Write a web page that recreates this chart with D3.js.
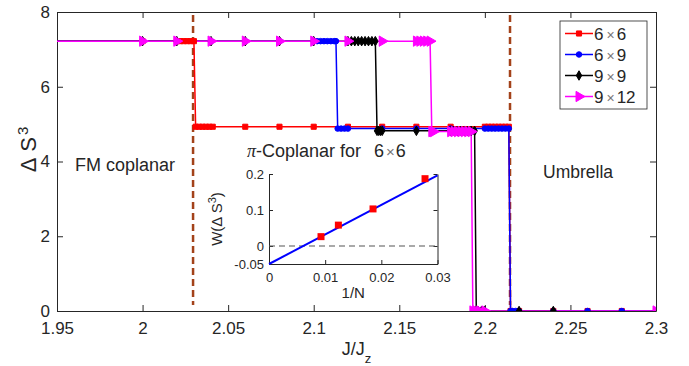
<!DOCTYPE html>
<html>
<head>
<meta charset="utf-8">
<script src="https://cdn.jsdelivr.net/npm/d3@7"></script>
<style>
body { margin: 0; background: #fff; }
text { font-family: "Liberation Sans", Arial, sans-serif; fill: #262626; }
</style>
</head>
<body>
<div class="chart"></div>
<script>
// tick labels
var xTicks = [1.95, 2, 2.05, 2.1, 2.15, 2.2, 2.25, 2.3];
var yTicks = [0, 2, 4, 6, 8];

// 6x6
var j66 = [1.9, 2.0, 2.02, 2.022, 2.024, 2.026, 2.028, 2.03,
           2.031, 2.033, 2.035, 2.037, 2.039, 2.041,
           2.06, 2.08, 2.1, 2.12, 2.14, 2.16, 2.18,
           2.2, 2.202, 2.204, 2.206, 2.208, 2.21, 2.212, 2.214,
           2.215, 2.22, 2.24, 2.26, 2.28, 2.3];
var s66 = [7.22, 7.22, 7.22, 7.22, 7.22, 7.22, 7.22, 7.22,
           4.93, 4.93, 4.93, 4.93, 4.93, 4.93,
           4.93, 4.93, 4.93, 4.93, 4.93, 4.93, 4.93,
           4.93, 4.93, 4.93, 4.93, 4.93, 4.93, 4.93, 4.93,
           0, 0, 0, 0, 0, 0];

// 6x9
var j69 = [1.9, 2.0, 2.02, 2.04, 2.06, 2.08, 2.1, 2.102, 2.104, 2.106, 2.108, 2.11, 2.112, 2.113,
           2.114, 2.116, 2.118, 2.12, 2.14, 2.16, 2.18,
           2.2, 2.202, 2.204, 2.206, 2.208, 2.21, 2.212, 2.214,
           2.215, 2.216, 2.218, 2.22, 2.24, 2.26, 2.28, 2.3];
var s69 = [7.22, 7.22, 7.22, 7.22, 7.22, 7.22, 7.22, 7.22, 7.22, 7.22, 7.22, 7.22, 7.22, 7.22,
           4.88, 4.88, 4.88, 4.88, 4.88, 4.88, 4.88,
           4.88, 4.88, 4.88, 4.88, 4.88, 4.88, 4.88, 4.88,
           0, 0, 0, 0, 0, 0, 0, 0];

// 9x9
var j99 = [1.9, 2.0, 2.02, 2.04, 2.06, 2.08, 2.1,
           2.12, 2.122, 2.124, 2.126, 2.128, 2.13, 2.132, 2.134, 2.136,
           2.137, 2.138, 2.139, 2.14, 2.16,
           2.18, 2.182, 2.184, 2.186, 2.188, 2.19, 2.192, 2.194,
           2.195, 2.196, 2.198, 2.2, 2.22, 2.24];
var s99 = [7.22, 7.22, 7.22, 7.22, 7.22, 7.22, 7.22,
           7.22, 7.22, 7.22, 7.22, 7.22, 7.22, 7.22, 7.22, 7.22,
           4.82, 4.82, 4.82, 4.82, 4.82,
           4.82, 4.82, 4.82, 4.82, 4.82, 4.82, 4.82, 4.82,
           0, 0, 0, 0, 0, 0];

// 9x12
var j912 = [1.9, 2.0, 2.02, 2.04, 2.06, 2.08, 2.1, 2.12, 2.14,
            2.16, 2.162, 2.164, 2.166, 2.168,
            2.169, 2.17, 2.18, 2.182, 2.184, 2.186, 2.188, 2.19, 2.192,
            2.193, 2.195, 2.197, 2.2, 2.3];
var s912 = [7.22, 7.22, 7.22, 7.22, 7.22, 7.22, 7.22, 7.22, 7.22,
            7.22, 7.22, 7.22, 7.22, 7.22,
            4.8, 4.8, 4.8, 4.8, 4.8, 4.8, 4.8, 4.8, 4.8,
            0, 0, 0, 0, 0];

var phaseLines = [2.0295, 2.2147];

// inset
var invN = [0.00926, 0.01235, 0.01852, 0.02778];
var wVals = [0.026, 0.058, 0.103, 0.187];
var fitX = [0, 0.03];
var fitY = [-0.05, 0.196];
var insetXTicks = [0, 0.01, 0.02, 0.03];
var insetYTicks = [-0.05, 0, 0.1, 0.2];

var series = [
    {name: ["6", "6"], x: j66, y: s66, color: "#ff0000", shape: "square"},
    {name: ["6", "9"], x: j69, y: s69, color: "#0000ff", shape: "circle"},
    {name: ["9", "9"], x: j99, y: s99, color: "#000000", shape: "diamond"},
    {name: ["9", "12"], x: j912, y: s912, color: "#ff00ff", shape: "triangle"}
];

function markerPath(shape) {
    if (shape == "square") return d3.symbol().type(d3.symbolSquare).size(26)();
    if (shape == "circle") return d3.symbol().type(d3.symbolCircle).size(24)();
    if (shape == "diamond") return d3.symbol().type(d3.symbolDiamond).size(26)();
    return d3.symbol().type(d3.symbolTriangle).size(46)();
}

function chart() {
    var margin = {top: 12, right: 33, bottom: 55, left: 57};
    var width = 689 - margin.left - margin.right;
    var height = 366 - margin.top - margin.bottom;

    var x = d3.scaleLinear().domain([1.95, 2.3]).range([0, width]);
    var y = d3.scaleLinear().domain([0, 8]).range([height, 0]);

    var svg = d3.select(".chart").append("svg")
            .attr("width", 689)
            .attr("height", 366)
            .append("g")
            .attr("transform", "translate(" + margin.left + "," + margin.top + ")");

    svg.append("defs").append("clipPath").attr("id", "clip")
        .append("rect").attr("width", width).attr("height", height);

    // axes (box on, ticks inward)
    var fmt = function (d) { return String(d); };
    svg.append("g")
        .attr("transform", "translate(0," + height + ")")
        .call(d3.axisBottom(x).tickValues(xTicks).tickFormat(fmt).tickSizeInner(-6).tickSizeOuter(0).tickPadding(11));
    svg.append("g")
        .call(d3.axisTop(x).tickValues(xTicks).tickFormat("").tickSizeInner(-6).tickSizeOuter(0));
    svg.append("g")
        .call(d3.axisLeft(y).tickValues(yTicks).tickFormat(fmt).tickSizeInner(-6).tickSizeOuter(0).tickPadding(7));
    svg.append("g")
        .attr("transform", "translate(" + width + ",0)")
        .call(d3.axisRight(y).tickValues(yTicks).tickFormat("").tickSizeInner(-6).tickSizeOuter(0));

    svg.selectAll(".domain").attr("stroke", "#262626").attr("stroke-width", 1);
    svg.selectAll(".tick line").attr("stroke", "#262626");
    svg.selectAll(".tick text").style("font-size", "17px").attr("fill", "#262626");

    var plot = svg.append("g").attr("clip-path", "url(#clip)");

    // phase boundaries
    plot.selectAll(".phase").data(phaseLines).enter().append("line")
        .attr("x1", function (d) { return x(d); })
        .attr("x2", function (d) { return x(d); })
        .attr("y1", 3)
        .attr("y2", height - 6)
        .attr("stroke", "#a3421a")
        .attr("stroke-width", 2.5)
        .attr("stroke-dasharray", "7,4");

    var line = d3.line()
        .x(function (d) { return x(d[0]); })
        .y(function (d) { return y(d[1]); });

    series.forEach(function (s) {
        s.pts = s.x.map(function (v, i) { return [v, s.y[i]]; });
        plot.append("path")
            .attr("d", line(s.pts))
            .attr("fill", "none")
            .attr("stroke", s.color)
            .attr("stroke-width", 1.5);
    });

    series.forEach(function (s) {
        plot.selectAll(null).data(s.pts).enter().append("path")
            .attr("d", markerPath(s.shape))
            .attr("transform", function (d) {
                return "translate(" + x(d[0]) + "," + y(d[1]) + ")" + (s.shape == "triangle" ? " rotate(90)" : "");
            })
            .attr("fill", s.color)
            .attr("stroke", s.color)
            .attr("stroke-width", 1);
    });

    // labels
    svg.append("text")
        .attr("x", width / 2)
        .attr("y", height + 44)
        .attr("text-anchor", "middle")
        .style("font-size", "18px")
        .text("J/J")
        .append("tspan").attr("baseline-shift", "sub").style("font-size", "13px").text("z");

    var yl = svg.append("text")
        .attr("transform", "translate(-21," + (height / 2 - 12) + ") rotate(-90)")
        .attr("text-anchor", "middle")
        .style("font-size", "22px");
    yl.append("tspan").text("\u0394");
    yl.append("tspan").attr("dx", 6).text("S");
    yl.append("tspan").attr("dx", 2).attr("baseline-shift", "super").style("font-size", "15px").text("3");

    svg.append("text").attr("x", 18).attr("y", 159).style("font-size", "18px").text("FM coplanar");
    svg.append("text").attr("x", 486).attr("y", 166).style("font-size", "17.5px").text("Umbrella");

    // legend
    var lg = svg.append("g").attr("transform", "translate(503,9)");
    lg.append("rect").attr("width", 87).attr("height", 88)
        .attr("fill", "#fff").attr("stroke", "#262626").attr("stroke-width", 0.8);
    series.forEach(function (s, i) {
        var row = lg.append("g").attr("transform", "translate(0," + (12.5 + i * 21) + ")");
        row.append("line").attr("x1", 5).attr("x2", 33)
            .attr("stroke", s.color).attr("stroke-width", 1.5);
        row.append("path").attr("d", markerPath(s.shape))
            .attr("transform", "translate(19,0)" + (s.shape == "triangle" ? " rotate(90)" : ""))
            .attr("fill", s.color).attr("stroke", s.color);
        var t = row.append("text").attr("x", 34).attr("y", 6).style("font-size", "17px");
        t.append("tspan").text(s.name[0]);
        t.append("tspan").attr("dx", 3).attr("fill", "#777").style("font-size", "14px").text("\u00d7");
        t.append("tspan").attr("dx", 2).text(s.name[1]);
    });

    // inset
    var ix0 = 269 - margin.left, iy0 = 174 - margin.top;
    var iw = 168.5, ih = 90;
    var ix = d3.scaleLinear().domain([0, 0.03]).range([0, iw]);
    var iy = d3.scaleLinear().domain([-0.05, 0.2]).range([ih, 0]);
    var inset = svg.append("g").attr("transform", "translate(" + ix0 + "," + iy0 + ")");
    inset.append("rect").attr("width", iw).attr("height", ih).attr("fill", "#fff");

    inset.append("g")
        .attr("transform", "translate(0," + ih + ")")
        .call(d3.axisBottom(ix).tickValues(insetXTicks).tickFormat(fmt).tickSizeInner(-4).tickSizeOuter(0).tickPadding(9));
    inset.append("g")
        .call(d3.axisLeft(iy).tickValues(insetYTicks).tickFormat(fmt).tickSizeInner(-4).tickSizeOuter(0).tickPadding(5));
    inset.append("g")
        .attr("transform", "translate(" + iw + ",0)")
        .call(d3.axisRight(iy).tickValues(insetYTicks).tickFormat("").tickSizeInner(-4).tickSizeOuter(0));
    inset.selectAll(".domain").attr("stroke", "#262626");
    inset.selectAll(".tick line").attr("stroke", "#262626");
    inset.selectAll(".tick text").style("font-size", "13px").attr("fill", "#262626");

    inset.append("line")
        .attr("x1", 0).attr("x2", iw)
        .attr("y1", iy(0)).attr("y2", iy(0))
        .attr("stroke", "#555").attr("stroke-width", 1.2).attr("stroke-dasharray", "6,4");

    inset.append("path")
        .attr("d", d3.line()(fitX.map(function (v, i) { return [ix(v), iy(fitY[i])]; })))
        .attr("stroke", "#0000ff").attr("stroke-width", 2).attr("fill", "none");

    inset.selectAll(null).data(invN).enter().append("rect")
        .attr("x", function (d) { return ix(d) - 3.5; })
        .attr("y", function (d, i) { return iy(wVals[i]) - 3.5; })
        .attr("width", 7).attr("height", 7)
        .attr("fill", "#ff0000");

    inset.append("text")
        .attr("x", iw / 2)
        .attr("y", ih + 34)
        .attr("text-anchor", "middle")
        .style("font-size", "15px")
        .text("1/N");

    var wl = inset.append("text")
        .attr("transform", "translate(-47," + (ih / 2) + ") rotate(-90)")
        .attr("text-anchor", "middle")
        .style("font-size", "15px");
    wl.append("tspan").text("W(\u0394 S");
    wl.append("tspan").attr("baseline-shift", "super").style("font-size", "11px").text("3");
    wl.append("tspan").text(")");

    var tt = inset.append("text")
        .attr("x", -22)
        .attr("y", -17)
        .style("font-size", "18px");
    tt.append("tspan").style("font-style", "italic").style("font-family", "'Liberation Serif', serif").text("\u03c0");
    tt.append("tspan").text("-Coplanar for");
    tt.append("tspan").attr("dx", 13).text("6");
    tt.append("tspan").attr("dx", 2).attr("fill", "#777").style("font-size", "15px").text("\u00d7");
    tt.append("tspan").attr("dx", 1).text("6");
}

chart();
</script>
</body>
</html>
